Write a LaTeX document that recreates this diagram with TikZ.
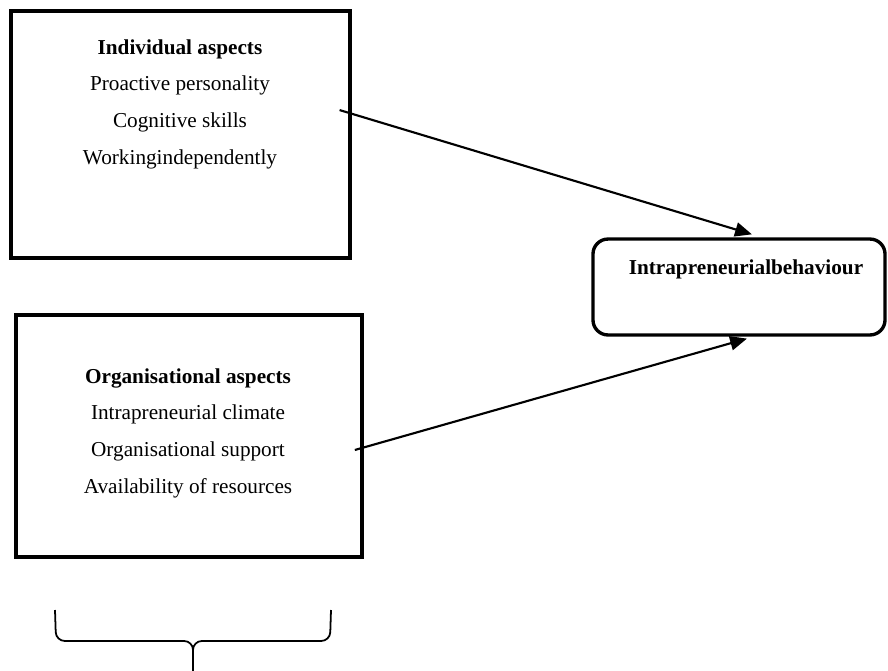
\documentclass[tikz,border=0pt]{standalone}
\usepackage{fontspec}
\setmainfont{Liberation Serif}
\usetikzlibrary{arrows.meta, positioning}

\begin{document}
\begin{tikzpicture}[x=0.565pt, y=-0.565pt]
    % Define styles
    \tikzset{aspectbox/.style={draw, rectangle, line width=1.9pt, inner sep=0pt}}
    \tikzset{itemtext/.style={inner sep=0pt, font=\fontsize{12}{14}\selectfont}}
    \tikzset{linkarrow/.style={-{Triangle[length=9.5pt, width=8pt]}, line width=1.2pt}}

    \useasboundingbox (0,0) rectangle (888,670);

    % Individual aspects box
    \node[aspectbox, minimum width=191.5pt, minimum height=139.6pt] (indbox) at (180.5,134.5) {};
    \node[itemtext] (indtitle) at (180,49) {\textbf{Individual aspects}};
    \foreach \txt [count=\i] in {Proactive personality, Cognitive skills, Workingindependently} {
        \node[itemtext] (ind\i) at (180,{49+36.7*\i}) {\txt};
    }

    % Organisational aspects box
    \node[aspectbox, minimum width=195.5pt, minimum height=136.7pt] (orgbox) at (189,436) {};
    \node[itemtext] (orgtitle) at (188,378) {\textbf{Organisational aspects}};
    \foreach \txt [count=\i] in {Intrapreneurial climate, Organisational support, Availability of resources} {
        \node[itemtext] (org\i) at (188,{378+36.7*\i}) {\txt};
    }

    % Outcome box (rounded)
    \node[aspectbox, rounded corners=8.5pt, minimum width=165pt, minimum height=54.2pt] (outcome) at (739,287) {};
    \node[itemtext] (outtitle) at (746,269) {\textbf{Intrapreneurialbehaviour}};

    % Arrows into the outcome box
    \coordinate (indout) at ([xshift=-6.8pt, yshift=13.8pt]indbox.east);
    \coordinate (orgout) at ([xshift=-5pt, yshift=-7.9pt]orgbox.east);
    \draw[linkarrow] (indout) -- ([xshift=7.3pt, yshift=1.7pt]outcome.north);
    \draw[linkarrow] (orgout) -- ([xshift=4.5pt, yshift=-1.1pt]outcome.south);

    % Brace under the organisational box (two halves meeting at the tip)
    \coordinate (bracetip) at (193,675);
    \draw[line width=1pt, rounded corners=5pt] (55,610) -- (56,641) -- (193,641) -- (bracetip);
    \draw[line width=1pt, rounded corners=5pt] (331,610) -- (330,641) -- (193,641) -- (bracetip);
\end{tikzpicture}
\end{document}
